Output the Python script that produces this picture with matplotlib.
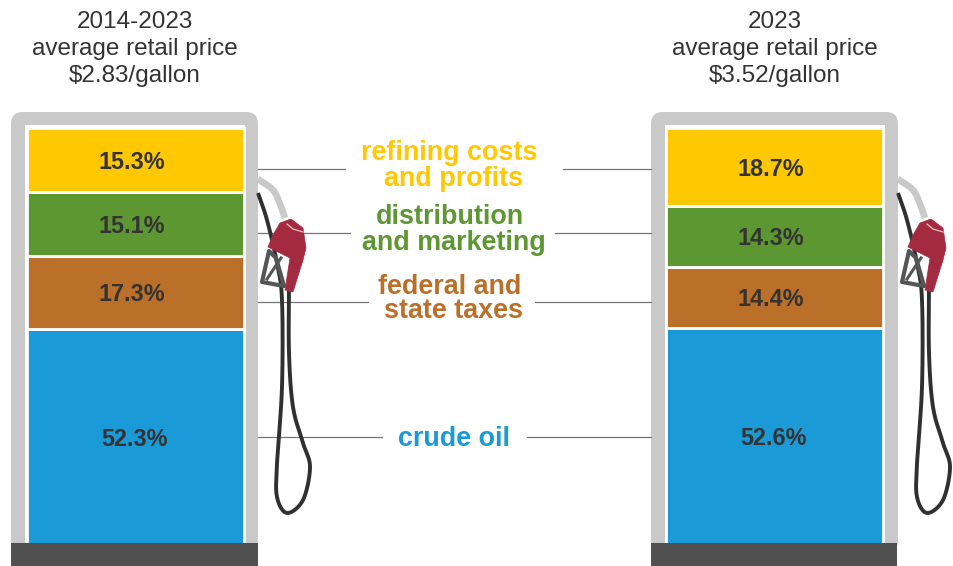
import matplotlib.pyplot as plt
import numpy as np
from matplotlib.patches import FancyBboxPatch, Polygon

plt.rcParams["font.family"] = ["Liberation Sans", "DejaVu Sans"]

# values bottom to top
categories = ["crude oil", "federal and taxes", "distribution and marketing", "refining costs and profits"]
colors = ["#1A9AD7", "#BB7029", "#5D9732", "#FFC800"]
avg_values = [52.3, 17.3, 15.1, 15.3]
latest_values = [52.6, 14.4, 14.3, 18.7]
titles = ["2014-2023\naverage retail price\n$2.83/gallon", "2023\naverage retail price\n$3.52/gallon"]

W, H = 954, 566
GREY = "#C9C9C9"
DARK = "#505050"
TEXT = "#333333"
PX_PER_PCT = 4.22
ZERO_Y = 549.5  # the bars run on a little under the dark base
BASE_Y = 543


def smooth(points, n=24):
    # catmull-rom through the points, keeps the hose round
    p = np.array(points, dtype=float)
    p = np.vstack([2 * p[0] - p[1], p, 2 * p[-1] - p[-2]])
    out = []
    for i in range(1, len(p) - 2):
        for t in np.linspace(0, 1, n):
            out.append(
                0.5 * (2 * p[i] + (p[i + 1] - p[i - 1]) * t
                       + (2 * p[i - 1] - 5 * p[i] + 4 * p[i + 1] - p[i + 2]) * t**2
                       + (3 * p[i] - p[i - 1] - 3 * p[i + 1] + p[i + 2]) * t**3)
            )
    return np.array(out)


def draw_nozzle(ax, dx):
    hose = [(258, 193), (267, 220), (277, 263), (282, 300), (282, 387), (277, 463),
            (277, 497), (287, 513), (303, 500), (310, 467), (303, 443), (293, 407), (289, 353), (289, 285)]
    xy = smooth(hose)
    ax.plot(xy[:, 0] + dx, xy[:, 1], color="#303030", lw=2.8, zorder=3, solid_capstyle="butt")

    spout = smooth([(258, 179), (273, 190), (280, 204), (285, 218)])
    ax.plot(spout[:, 0] + dx, spout[:, 1], color=GREY, lw=4.8, zorder=4, solid_capstyle="butt")

    guard = [(269, 251), (262, 282), (284, 286), (276, 258)]
    ax.add_patch(Polygon([(x + dx, y) for x, y in guard], closed=True, fc="none", ec="#555555", lw=3,
                         joinstyle="round", zorder=4))
    ax.plot([267 + dx, 281 + dx], [279, 258], color="#555555", lw=2.2, zorder=4)

    body = [(280, 223), (291, 219), (303, 228), (306, 248), (303, 260), (293, 292),
            (285, 290), (290, 258), (268, 247), (273, 235)]
    ax.add_patch(Polygon([(x + dx, y) for x, y in body], closed=True, fc="#A42A3F", ec="#A42A3F", lw=0.5, zorder=5))
    ax.plot([287 + dx, 293 + dx, 303 + dx], [224, 229, 232], color="#E6C4C8", lw=0.9, zorder=6)


fig = plt.figure(figsize=(W / 100, H / 100), dpi=100)

# pixel layer for the pump housing, nozzle, and leaders
ax = fig.add_axes([0, 0, 1, 1])
ax.set_xlim(0, W)
ax.set_ylim(H, 0)
ax.axis("off")

# bars in percent, with 0 just under the pump base
bar_ax = fig.add_axes([0, 0, 1, 1], facecolor="none")
bar_ax.set_xlim(0, W)
bar_ax.set_ylim((ZERO_Y - H) / PX_PER_PCT, ZERO_Y / PX_PER_PCT)
bar_ax.axis("off")

for dx, values, title in zip([0, 640], [avg_values, latest_values], titles):
    ax.add_patch(FancyBboxPatch((11 + dx, 112), 247, 440, boxstyle="round,pad=0,rounding_size=12",
                                fc=GREY, ec="none", zorder=1))
    ax.add_patch(plt.Rectangle((25 + dx, 125), 220.5, 421, fc="white", ec="none", zorder=1))
    draw_nozzle(ax, dx)

    bottom = 0
    for i, (value, color) in enumerate(zip(values, colors)):
        bar_ax.bar(135.5 + dx - 0.5 * (dx > 0), value, width=217, bottom=bottom, color=color,
                   edgecolor="white", linewidth=2, zorder=3)
        label_x = 134 if i == 0 else 131.5
        # label nudge is in percent units, about 1.5px down
        bar_ax.text(label_x + dx - 0.5 * (dx > 0), bottom + value / 2 + (0 if i == 0 else -0.55), f"{value}%",
                    ha="center", va="center", fontsize=16.8, fontweight="bold", color=TEXT, zorder=5)
        bottom += value

    # base sits over the bottom of the blue bar
    bar_ax.add_patch(plt.Rectangle((11 + dx, (ZERO_Y - H) / PX_PER_PCT), 247 - (dx > 0),
                                   (H - BASE_Y) / PX_PER_PCT, fc=DARK, ec="none", zorder=4))

    ax.text(134.5 + dx, 49, title, ha="center", va="center", fontsize=17.5, color=TEXT, linespacing=1.28)

# leaders, same order as colors
line_y = [437, 302, 233, 169]
left_end = [382, 368, 350, 345]
right_start = [527, 535, 555, 563]
for ly, x0, x1 in zip(line_y, left_end, right_start):
    ax.plot([258, x0], [ly, ly], color="#757575", lw=0.9, zorder=2)
    ax.plot([x1, 651], [ly, ly], color="#757575", lw=0.9, zorder=2)

# middle labels, the lines are not centred on each other
label_lines = [
    ("refining costs", 449.5, 153.5, colors[3]),
    ("and profits", 454, 178.5, colors[3]),
    ("distribution", 450, 217.5, colors[2]),
    ("and marketing", 454, 242.5, colors[2]),
    ("federal and", 450, 286.5, colors[1]),
    ("state taxes", 453.5, 311.5, colors[1]),
    ("crude oil", 454, 438.5, colors[0]),
]
for line, x, y, color in label_lines:
    ax.text(x, y, line, ha="center", va="center", fontsize=19.4, fontweight="bold", color=color)

fig.savefig("out.png", dpi=100)
